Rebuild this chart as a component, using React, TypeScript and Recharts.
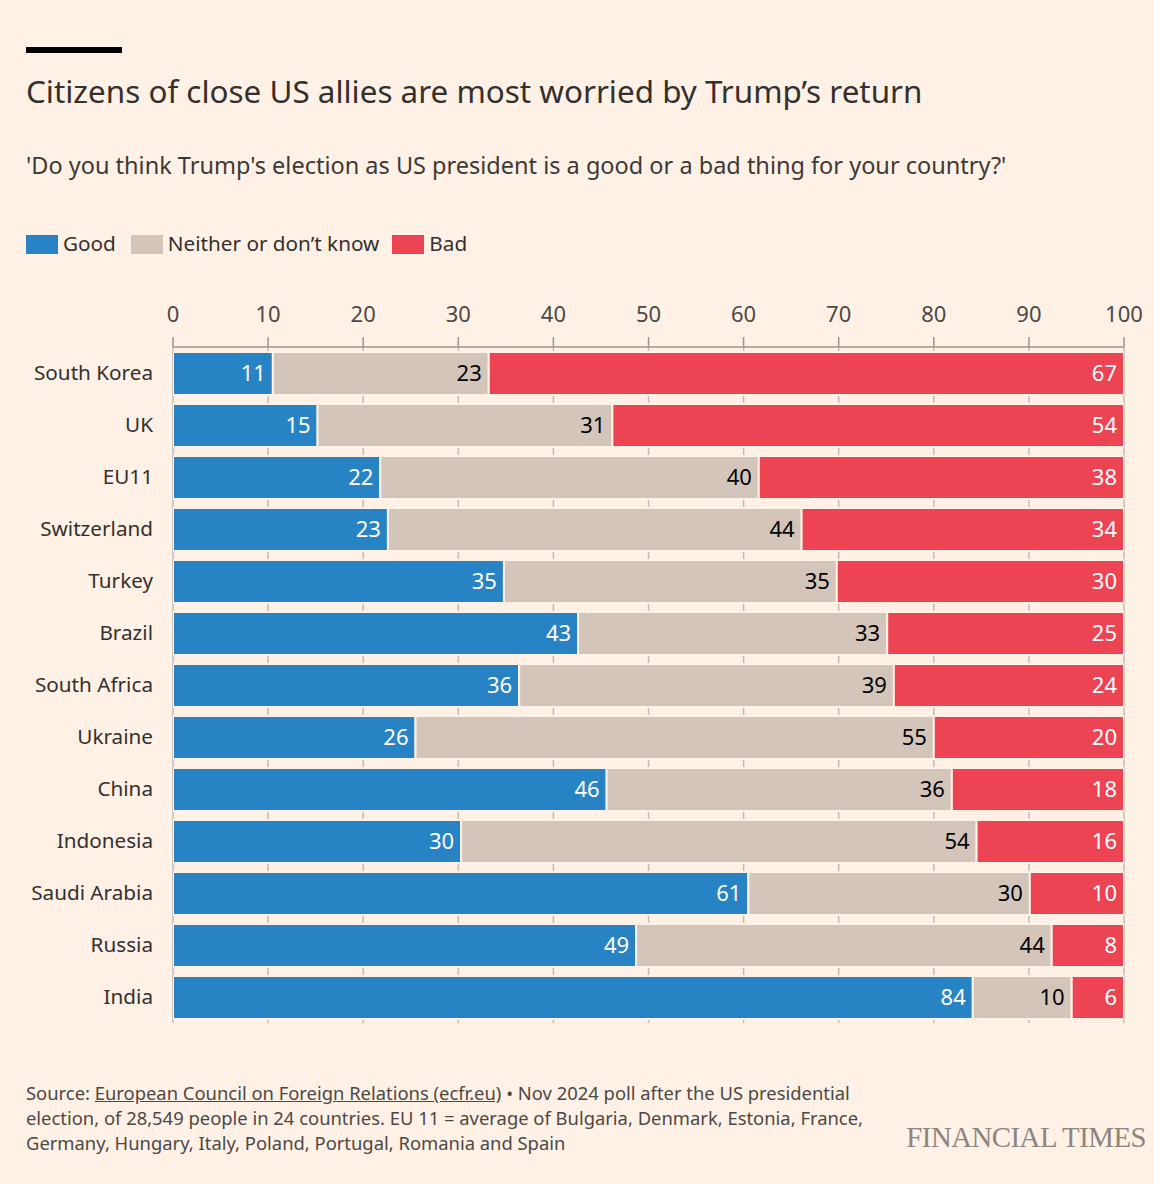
import { Bar, BarChart, CartesianGrid, LabelList, XAxis, YAxis } from "recharts";

const countries = [
  "South Korea",
  "UK",
  "EU11",
  "Switzerland",
  "Turkey",
  "Brazil",
  "South Africa",
  "Ukraine",
  "China",
  "Indonesia",
  "Saudi Arabia",
  "Russia",
  "India",
];
// shares in % (labels are these rounded)
const good = [10.5, 15.2, 21.8, 22.6, 34.8, 42.6, 36.4, 25.5, 45.6, 30.3, 60.5, 48.7, 84.1];
const neither = [22.7, 31.0, 39.8, 43.5, 35.0, 32.5, 39.4, 54.5, 36.3, 54.2, 29.6, 43.7, 10.4];
const bad = [66.8, 53.8, 38.4, 33.9, 30.2, 24.9, 24.2, 20.0, 18.1, 15.5, 9.9, 7.6, 5.5];
const xTicks = [0, 10, 20, 30, 40, 50, 60, 70, 80, 90, 100];

const data = countries.map((name, i) => ({
  name,
  good: good[i],
  neither: neither[i],
  bad: bad[i],
}));

const BG = "#FFF1E5";
const FONT = "'Noto Sans', sans-serif";
const BLUE = "#2883c4";
const GREY = "#d4c5bb";
const RED = "#ec4453";

const fmt = (v: number) => Math.round(v);

function Swatch({ color }: { color: string }) {
  return <span style={{ display: "inline-block", width: 32, height: 19, background: color, marginRight: 5, verticalAlign: -3 }} />;
}

export default function App() {
  return (
    <div
      style={{
        position: "absolute",
        left: 0,
        top: 0,
        width: 1154,
        height: 1184,
        background: BG,
        fontFamily: FONT,
        color: "#33302e",
        overflow: "hidden",
      }}
    >
      <div style={{ position: "absolute", left: 26, top: 47, width: 96, height: 6, background: "#000" }} />
      <div style={{ position: "absolute", left: 26, top: 71, fontSize: 31.4, lineHeight: "40px", whiteSpace: "nowrap" }}>
        Citizens of close US allies are most worried by Trump’s return
      </div>
      <div style={{ position: "absolute", left: 26, top: 149, fontSize: 23.5, lineHeight: "32px", color: "#3d3936", whiteSpace: "nowrap" }}>
        'Do you think Trump's election as US president is a good or a bad thing for your country?'
      </div>
      <div style={{ position: "absolute", left: 26, top: 228, fontSize: 20.7, lineHeight: "30px", color: "#33302e", whiteSpace: "nowrap" }}>
        <Swatch color={BLUE} />
        <span style={{ marginRight: 15 }}>Good</span>
        <Swatch color={GREY} />
        <span style={{ marginRight: 13 }}>Neither or don’t know</span>
        <Swatch color={RED} />
        <span>Bad</span>
      </div>

      <div style={{ position: "absolute", left: 0, top: 280 }}>
        <BarChart
          width={1154}
          height={760}
          data={data}
          layout="vertical"
          margin={{ top: 27, right: 30, left: 0, bottom: 17 }}
          barSize={43}
          style={{ fontFamily: FONT }}
        >
          <CartesianGrid horizontal={false} stroke="#c4bab2" strokeWidth={1.5} />
          <XAxis
            type="number"
            orientation="top"
            domain={[0, 100]}
            allowDataOverflow
            ticks={xTicks}
            height={40}
            tickSize={10}
            tickMargin={15}
            axisLine={{ stroke: "#9d948d", strokeWidth: 1.5 }}
            tickLine={{ stroke: "#9d948d", strokeWidth: 1.5 }}
            tick={{ fill: "#4d4845", fontSize: 22 }}
          />
          <YAxis
            type="category"
            dataKey="name"
            width={173}
            axisLine={false}
            tickLine={false}
            tickSize={0}
            tickMargin={20}
            tick={{ fill: "#33302e", fontSize: 20.7 }}
          />
          <Bar dataKey="good" stackId="a" fill={BLUE} stroke={BG} strokeWidth={2} isAnimationActive={false}>
            <LabelList dataKey="good" position="insideRight" offset={7} fill="#fff" fontSize={22} formatter={fmt} />
          </Bar>
          <Bar dataKey="neither" stackId="a" fill={GREY} stroke={BG} strokeWidth={2} isAnimationActive={false}>
            <LabelList dataKey="neither" position="insideRight" offset={7} fill="#000" fontSize={22} formatter={fmt} />
          </Bar>
          <Bar dataKey="bad" stackId="a" fill={RED} stroke={BG} strokeWidth={2} isAnimationActive={false}>
            <LabelList dataKey="bad" position="insideRight" offset={7} fill="#fff" fontSize={22} formatter={fmt} />
          </Bar>
        </BarChart>
      </div>

      <div
        style={{
          position: "absolute",
          left: 26,
          top: 1080,
          fontSize: 18.4,
          lineHeight: "25px",
          color: "#4d4845",
          whiteSpace: "nowrap",
        }}
      >
        <div>
          Source: <span style={{ textDecoration: "underline" }}>European Council on Foreign Relations (ecfr.eu)</span> •
          Nov 2024 poll after the US presidential
        </div>
        <div>election, of 28,549 people in 24 countries. EU 11 = average of Bulgaria, Denmark, Estonia, France,</div>
        <div>Germany, Hungary, Italy, Poland, Portugal, Romania and Spain</div>
      </div>
      <div
        style={{
          position: "absolute",
          right: 8,
          top: 1121,
          fontFamily: "'Liberation Serif', serif",
          fontSize: 28.8,
          lineHeight: "32px",
          color: "#8c8580",
          letterSpacing: -0.5,
        }}
      >
        FINANCIAL TIMES
      </div>
    </div>
  );
}
